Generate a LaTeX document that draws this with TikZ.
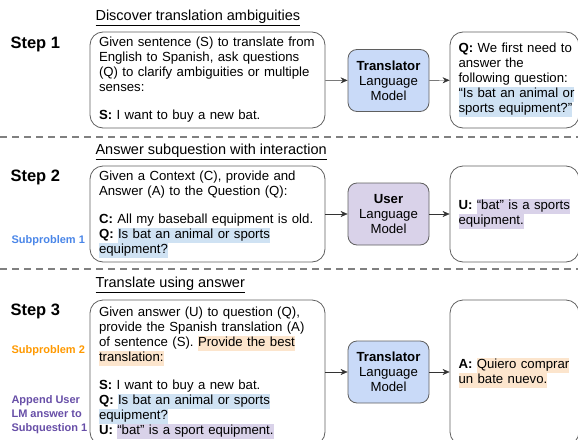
\documentclass[tikz,border=0pt]{standalone}
\usepackage{fontspec}
\setmainfont{Liberation Sans}
\usepackage{tikz}
\usetikzlibrary{arrows.meta}

\definecolor{hlblue}{HTML}{CFE2F3}
\definecolor{hlpurple}{HTML}{D9D2E9}
\definecolor{hlorange}{HTML}{FCE5CD}
\definecolor{transfill}{HTML}{C9DAF8}
\definecolor{userfill}{HTML}{D9D2E9}
\definecolor{boxline}{HTML}{5F5F5F}
\definecolor{subone}{HTML}{4A86E8}
\definecolor{subtwo}{HTML}{FF9900}
\definecolor{appendcol}{HTML}{674EA7}

\newcommand{\hlb}[1]{{\setlength{\fboxsep}{0pt}\colorbox{hlblue}{\strut#1}}}
\newcommand{\hlp}[1]{{\setlength{\fboxsep}{0pt}\colorbox{hlpurple}{\strut#1}}}
\newcommand{\hlo}[1]{{\setlength{\fboxsep}{0pt}\colorbox{hlorange}{\strut#1}}}

\tikzset{
    textbox/.style={draw=boxline, line width=0.8pt, rounded corners=13pt,
        align=left, inner xsep=9pt, font=\fontsize{13.2}{15}\selectfont},
    promptbox/.style={textbox, minimum width=235pt, text width=217pt},
    outbox/.style={textbox, minimum width=129pt, text width=112pt, inner xsep=8pt},
    lmbox/.style={draw=boxline, line width=0.8pt, rounded corners=9pt, align=center,
        minimum width=81pt, minimum height=62pt, font=\fontsize{13.2}{15}\selectfont},
    steplabel/.style={anchor=west, font=\fontsize{16.5}{18}\selectfont\bfseries},
    sublabel/.style={anchor=west, align=left, font=\fontsize{11}{14}\selectfont\bfseries},
    title/.style={anchor=west, font=\fontsize{14.5}{17}\selectfont},
    separator/.style={draw=gray, line width=2.2pt, dash pattern=on 7pt off 5pt}
}

\begin{document}
\begin{tikzpicture}[x=1pt, y=-1pt, >={Stealth[length=7pt,width=6pt]}]

    \clip (0,0) rectangle (578,439);

    \coordinate (C1)  at (207.5, 80);
    \coordinate (C2)  at (388.5, 80.5);
    \coordinate (C3)  at (514.5, 80);
    \coordinate (C4)  at (207.5, 214);
    \coordinate (C5)  at (388.5, 214);
    \coordinate (C6)  at (514.5, 214);
    \coordinate (C7)  at (207.5, 372.5);
    \coordinate (C8)  at (388.5, 372);
    \coordinate (C9)  at (514.5, 372.5);

    % titles and step labels
    \node [title] (T1) at (92, 18)  {\underline{Discover translation ambiguities}};
    \node [title] (T2) at (92, 152) {\underline{Answer subquestion with interaction}};
    \node [title] (T3) at (92, 285) {\underline{Translate using answer}};

    \node [steplabel] (S1) at (7, 44)  {Step 1};
    \node [steplabel] (S2) at (7, 177) {Step 2};
    \node [steplabel] (S3) at (7, 311) {Step 3};

    \node [sublabel, text=subone]    (P1) at (8, 241) {Subproblem 1};
    \node [sublabel, text=subtwo]    (P2) at (8, 351) {Subproblem 2};
    \node [sublabel, text=appendcol] (P3) at (8, 415) {Append User\\LM answer to\\Subquestion 1};

    % step 1
    \node [promptbox, minimum height=96pt] (N1) at (C1) {Given sentence (S) to translate from\\
        English to Spanish, ask questions\\
        (Q) to clarify ambiguities or multiple\\
        senses:\\[13pt]
        \textbf{S:} I want to buy a new bat.};
    \node [lmbox, fill=transfill] (N2) at (C2) {\textbf{Translator}\\Language\\Model};
    \node [outbox, minimum height=96pt] (N3) at (C3) {\mbox{\textbf{Q:} We first need to}\\
        answer the\\
        \mbox{following question:}\\
        \mbox{\hlb{“Is bat an animal or}}\\
        \mbox{\hlb{sports equipment?”}}};

    % step 2
    \node [promptbox, minimum height=96pt] (N4) at (C4) {Given a Context (C), provide and\\
        Answer (A) to the Question (Q):\\[13pt]
        \textbf{C:} All my baseball equipment is old.\\
        \textbf{Q:} \hlb{Is bat an animal or sports}\\
        \hlb{equipment?}};
    \node [lmbox, fill=userfill] (N5) at (C5) {\textbf{User}\\Language\\Model};
    \node [outbox, minimum height=96pt] (N6) at (C6) {\mbox{\textbf{U:} \hlp{“bat” is a sports}}\\
        \hlp{equipment.}};

    % step 3
    \node [promptbox, minimum height=145pt] (N7) at (C7) {Given answer (U) to question (Q),\\
        provide the Spanish translation (A)\\
        of sentence (S). \hlo{Provide the best}\\
        \hlo{translation:}\\[13pt]
        \textbf{S:} I want to buy a new bat.\\
        \textbf{Q:} \hlb{Is bat an animal or sports}\\
        \hlb{equipment?}\\
        \textbf{U:} \hlp{“bat” is a sport equipment.}};
    \node [lmbox, fill=transfill] (N8) at (C8) {\textbf{Translator}\\Language\\Model};
    \node [outbox, minimum height=145pt] (N9) at (C9) {\mbox{\textbf{A:} \hlo{Quiero comprar}}\\
        \hlo{un bate nuevo.}};

    \draw [->, draw=black!80] (N1) -- (N2);
    \draw [->, draw=black!80] (N2) -- (N3);
    \draw [->, draw=black!80] (N4) -- (N5);
    \draw [->, draw=black!80] (N5) -- (N6);
    \draw [->, draw=black!80] (N7.east |- N8) -- (N8);
    \draw [->, draw=black!80] (N8) -- (N9.west |- N8);

    % separators
    \draw [separator] (0, 137) -- (578, 137);
    \draw [separator] (0, 269) -- (578, 269);

\end{tikzpicture}
\end{document}
